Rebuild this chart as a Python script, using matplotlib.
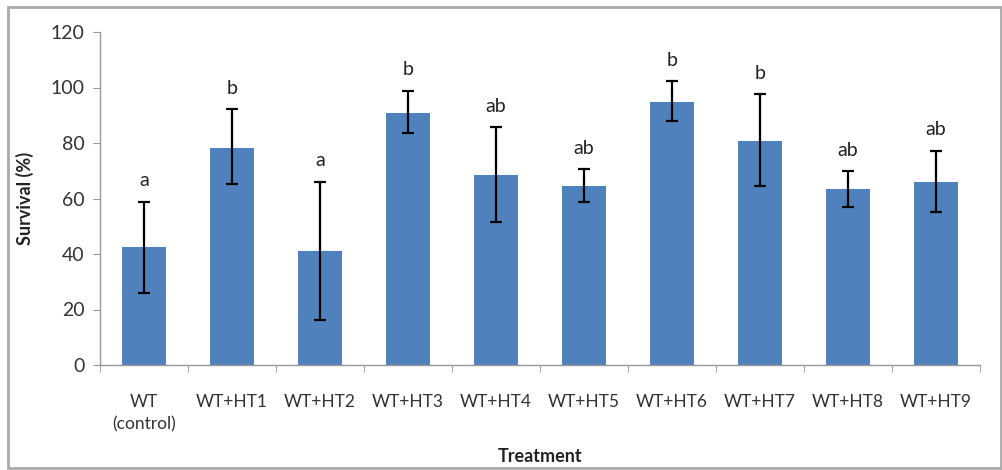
import matplotlib
matplotlib.use("Agg")
import matplotlib.pyplot as plt
from matplotlib.patches import Rectangle
import numpy as np

categories = ["WT\n(control)", "WT+HT1", "WT+HT2", "WT+HT3", "WT+HT4",
              "WT+HT5", "WT+HT6", "WT+HT7", "WT+HT8", "WT+HT9"]
survival = [42.5, 78.1, 41.2, 90.9, 68.5, 64.6, 94.6, 80.8, 63.3, 65.8]
err_upper = [58.8, 92.2, 66.0, 98.9, 85.6, 70.5, 102.3, 97.5, 69.9, 77.2]
err_lower = [26.0, 65.4, 16.2, 83.5, 51.4, 58.9, 87.9, 64.6, 57.0, 55.0]
letters = ["a", "b", "a", "b", "ab", "ab", "b", "b", "ab", "ab"]
yticks = [0, 20, 40, 60, 80, 100, 120]

plt.rcParams['font.family'] = ['Lato', 'DejaVu Sans']

fig = plt.figure(figsize=(10.03, 4.70), dpi=100)
ax = fig.add_axes([100/1003, 1-365/470, 880/1003, 333/470])

x = np.arange(len(categories))
vals = np.array(survival)
yerr = np.array([vals - np.array(err_lower), np.array(err_upper) - vals])
ax.bar(x, vals, width=0.51, color="#4F81BD", zorder=2)
ax.errorbar(x, vals, yerr=yerr, fmt="none", ecolor="black", elinewidth=1.6,
            capsize=4, capthick=1.6, zorder=3)

for xi, top, lab in zip(x, err_upper, letters):
    ax.text(xi, top + 4.5, lab, ha="center", va="bottom", fontsize=14, color="#222222")

ax.set_xlim(-0.5, len(categories) - 0.5)
ax.set_ylim(0, 120)
ax.set_yticks(yticks)
ax.set_xticks(x)
ax.set_xticklabels(categories, fontsize=12.5, color="#333333", linespacing=1.5)
ax.set_xticks(np.arange(-0.5, len(categories)), minor=True)
ax.tick_params(axis="x", which="major", length=0, pad=21)
ax.tick_params(axis="x", which="minor", length=5, color="#999999", direction="out")
ax.tick_params(axis="y", length=5, color="#999999", labelsize=14, labelcolor="#333333", pad=6)

for s in ["top", "right"]:
    ax.spines[s].set_visible(False)
for s in ["left", "bottom"]:
    ax.spines[s].set_color("#999999")
    ax.spines[s].set_linewidth(1.0)

ax.set_ylabel("Survival (%)", fontsize=13, fontweight="bold", color="#222222", labelpad=12)
ax.set_xlabel("Treatment", fontsize=13, fontweight="bold", color="#222222", labelpad=11)

fig.patches.append(Rectangle((8/1003, 2/470), 993/1003, 461/470, transform=fig.transFigure,
                             fill=False, edgecolor="#AAAAAA", linewidth=2.0))

fig.savefig("out.png", dpi=100)
